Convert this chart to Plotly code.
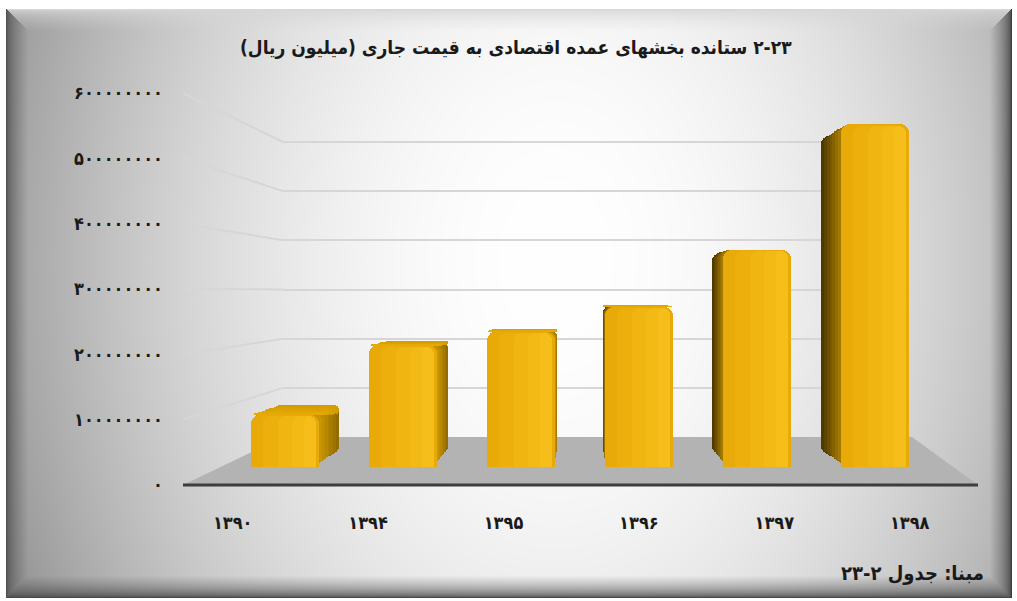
import base64
import struct
import zlib

import numpy as np
import plotly.graph_objects as go

# ---------------------------------------------------------------- data
years = ["۱۳۹۰", "۱۳۹۴", "۱۳۹۵", "۱۳۹۶", "۱۳۹۷", "۱۳۹۸"]
output_values = [88000000, 205000000, 228000000, 270000000, 366000000, 578000000]

y_tick_values = [0, 100000000, 200000000, 300000000, 400000000, 500000000, 600000000]
y_tick_labels = ["۰", "۱۰۰۰۰۰۰۰۰", "۲۰۰۰۰۰۰۰۰", "۳۰۰۰۰۰۰۰۰",
                 "۴۰۰۰۰۰۰۰۰", "۵۰۰۰۰۰۰۰۰", "۶۰۰۰۰۰۰۰۰"]

title_text = "۲-۲۳ ستانده بخشهای عمده اقتصادی به قیمت جاری (میلیون ریال)"
source_text = "مبنا: جدول ۲-۲۳"

# ---------------------------------------------------------------- geometry (pixels)
W, H = 1017, 601
Y_MAX = 600000000
Y_TOP = 606000000        # a little headroom so the top gridline is drawn
FRONT_X = 183            # left edge of the floor / front plane
FRONT_Y0, FRONT_YT = 485, 93
BACK_X0, BACK_X1 = 283, 912
BACK_Y0, BACK_YT = 437, 142
FLOOR_RIGHT = 978
BAR_Y0, BAR_YT = 467, 111
BAR_X0, BAR_STEP = 226, 118
LABEL_X0, LABEL_STEP = 165, 135.4
EYE_VALUE = 300000000    # horizon of the perspective
VP_INDEX = 2.5           # vanishing column, in category units
DEPTH = 0.075            # how far the back faces shrink toward the vanishing point
FACE_W = 0.58            # front face width, category units

FONT = "DejaVu Sans Condensed, DejaVu Sans"


def fx(p):
    return p / W


def fy(p):
    return 1 - p / H


def rle(s):
    # right-to-left embedding so the paragraph starts on the right
    return "\u202b" + s + "\u202c"


def y_front(v):
    return FRONT_Y0 - v / Y_MAX * (FRONT_Y0 - FRONT_YT)


def y_back(v):
    return BACK_Y0 - v / Y_MAX * (BACK_Y0 - BACK_YT)


# ---------------------------------------------------------------- backdrop
def backdrop_png(w, h):
    yy, xx = np.mgrid[0:h, 0:w].astype(float)
    d2 = ((xx - 555) / 570) ** 2 + ((yy - 260) / 800) ** 2
    val = np.clip(255 - 100 * d2, 150, 255)

    x0, y0, x1, y1 = 6, 9, 1011, 597
    dl, dr, dt, db = xx - x0, x1 - xx, yy - y0, y1 - yy
    dmin = np.minimum(np.minimum(dl, dr), np.minimum(dt, db))
    edge = np.select([dl == dmin, dr == dmin, dt == dmin], [80.0, 60.0, 215.0], 70.0)
    s = np.clip(dmin / 22.0, 0, 1) ** 0.55
    framed = edge * (1 - s) + val * s
    img = np.where(dmin >= 0, framed, 255.0).astype(np.uint8)
    rgb = np.dstack([img, img, img])

    raw = b"".join(b"\x00" + row.tobytes() for row in rgb)

    def chunk(tag, data):
        c = struct.pack(">I", len(data)) + tag + data
        return c + struct.pack(">I", zlib.crc32(tag + data) & 0xFFFFFFFF)

    png = b"\x89PNG\r\n\x1a\n"
    png += chunk(b"IHDR", struct.pack(">IIBBBBB", w, h, 8, 2, 0, 0, 0))
    png += chunk(b"IDAT", zlib.compress(raw, 9))
    png += chunk(b"IEND", b"")
    return "data:image/png;base64," + base64.b64encode(png).decode()


def lerp_hex(c0, c1, t):
    a = [int(c0[i:i + 2], 16) for i in (1, 3, 5)]
    b = [int(c1[i:i + 2], 16) for i in (1, 3, 5)]
    return "#" + "".join(f"{round(p + (q - p) * t):02x}" for p, q in zip(a, b))


# ---------------------------------------------------------------- figure
fig = go.Figure()

n = len(years)
idx = np.arange(n)

# Back-wall subplot (x/y): only its horizontal gridlines are shown
fig.add_trace(go.Scatter(x=years, y=output_values, mode="none",
                         hoverinfo="skip", showlegend=False))
# Front-plane subplot (x2/y2): category labels and value labels
fig.add_trace(go.Scatter(x=years, y=output_values, xaxis="x2", yaxis="y2",
                         mode="none", hoverinfo="skip", showlegend=False))

# Bars (x3/y3): layers receding toward the vanishing point, then the front face
vals = np.array(output_values, dtype=float)
left_side_visible = (VP_INDEX - idx) < 0
layers = 7
for j in range(layers):
    frac = 1 - j / layers
    t = j / (layers - 1)
    k = DEPTH * frac
    width = FACE_W * (1 - k)
    shift = k * (VP_INDEX - idx)
    offs = shift - width / 2
    base = k * EYE_VALUE
    height = vals * (1 - k)
    cols = [lerp_hex("#4f3a00", "#a27800", t) if lv else lerp_hex("#946b00", "#c99500", t)
            for lv in left_side_visible]
    fig.add_trace(go.Bar(
        x=years, y=height, base=[base] * n, offset=offs, width=[width] * n,
        marker=dict(color=cols, line=dict(width=0), cornerradius=8),
        xaxis="x3", yaxis="y3", hoverinfo="skip", showlegend=False))
    # lit top face of the bars that sit below the horizon
    top = base + height
    rise = np.maximum(top - vals, 0)
    fig.add_trace(go.Bar(
        x=years, y=rise + 1, base=vals - 1, offset=offs, width=[width] * n,
        marker=dict(color=lerp_hex("#d49a00", "#e6aa04", t), line=dict(width=0),
                    cornerradius=6),
        xaxis="x3", yaxis="y3", hoverinfo="skip", showlegend=False))

fig.add_trace(go.Bar(
    x=years, y=output_values, offset=-FACE_W / 2, width=FACE_W,
    marker=dict(color="#e8aa08", line=dict(width=0), cornerradius=9),
    xaxis="x3", yaxis="y3", hoverinfo="skip", showlegend=False))
for w_frac, col in [(0.78, "rgba(247,192,24,0.25)"), (0.56, "rgba(250,198,30,0.25)"),
                    (0.36, "rgba(252,204,40,0.25)"), (0.18, "rgba(253,208,48,0.2)")]:
    fig.add_trace(go.Bar(
        x=years, y=vals - 2500000, offset=FACE_W / 2 - FACE_W * w_frac - 0.025,
        width=FACE_W * w_frac,
        marker=dict(color=col, line=dict(width=0), cornerradius=8),
        xaxis="x3", yaxis="y3", hoverinfo="skip", showlegend=False))

# ---------------------------------------------------------------- floor and perspective guides
shapes = [dict(
    type="path", xref="paper", yref="paper", layer="below",
    path=(f"M {fx(FRONT_X)} {fy(FRONT_Y0)} L {fx(BACK_X0)} {fy(BACK_Y0)} "
          f"L {fx(BACK_X1)} {fy(BACK_Y0)} L {fx(FLOOR_RIGHT)} {fy(FRONT_Y0)} Z"),
    fillcolor="#b3b3b3", line=dict(width=0))]
shapes.append(dict(type="line", xref="paper", yref="paper", layer="below",
                   x0=fx(FRONT_X), x1=fx(FLOOR_RIGHT), y0=fy(FRONT_Y0), y1=fy(FRONT_Y0),
                   line=dict(color="#3d3d3d", width=3)))
for v in y_tick_values[1:]:
    shapes.append(dict(type="line", xref="paper", yref="paper", layer="below",
                       x0=fx(FRONT_X), y0=fy(y_front(v)), x1=fx(BACK_X0), y1=fy(y_back(v)),
                       line=dict(color="#d6d6d6", width=2)))

fig.update_layout(
    width=W, height=H,
    margin=dict(l=0, r=0, t=0, b=0, pad=0, autoexpand=False),
    paper_bgcolor="white", plot_bgcolor="rgba(0,0,0,0)",
    barmode="overlay", bargap=0,
    showlegend=False,
    shapes=shapes,
    images=[dict(source=backdrop_png(W, H), xref="paper", yref="paper",
                 x=0, y=1, sizex=1, sizey=1, xanchor="left", yanchor="top",
                 sizing="stretch", layer="below")],
    xaxis=dict(domain=[fx(BACK_X0), fx(BACK_X1)], anchor="y", visible=False,
               categoryorder="array", categoryarray=years),
    yaxis=dict(domain=[fy(BACK_Y0), fy(y_back(Y_TOP))], anchor="x", range=[0, Y_TOP],
               tickvals=y_tick_values[1:], showticklabels=False, ticks="",
               showgrid=True, gridcolor="#d6d6d6", gridwidth=2,
               zeroline=False, showline=False),
    xaxis2=dict(domain=[fx(LABEL_X0), fx(LABEL_X0 + LABEL_STEP * n)], anchor="free",
                position=fy(FRONT_Y0), categoryorder="array", categoryarray=years,
                range=[-0.5, n - 0.5],
                showgrid=False, zeroline=False, showline=False, ticks="",
                ticklabelstandoff=25,
                tickfont=dict(family=FONT, size=18, color="#1a1a1a", weight="bold")),
    yaxis2=dict(domain=[fy(FRONT_Y0), fy(FRONT_YT)], anchor="free", position=fx(FRONT_X),
                range=[0, Y_MAX], tickvals=y_tick_values,
                ticktext=y_tick_labels, showgrid=False, zeroline=False, showline=False,
                ticks="", ticklabelstandoff=20,
                tickfont=dict(family=FONT, size=18, color="#1a1a1a", weight="bold")),
    xaxis3=dict(domain=[fx(BAR_X0), fx(BAR_X0 + BAR_STEP * n)], anchor="y3",
                visible=False, categoryorder="array", categoryarray=years,
                range=[-0.5, n - 0.5]),
    yaxis3=dict(domain=[fy(BAR_Y0), fy(BAR_YT)], anchor="x3", range=[0, Y_MAX],
                visible=False),
    annotations=[
        dict(text=rle(title_text), xref="paper", yref="paper", x=fx(516), y=fy(47),
             xanchor="center", yanchor="middle", showarrow=False,
             font=dict(family=FONT, size=19, color="#1a1a1a", weight="bold")),
        dict(text=rle(source_text), xref="paper", yref="paper", x=fx(986), y=fy(573),
             xanchor="right", yanchor="middle", showarrow=False,
             font=dict(family=FONT, size=20, color="#1a1a1a", weight="bold")),
    ],
)

fig.write_html("out.html")
